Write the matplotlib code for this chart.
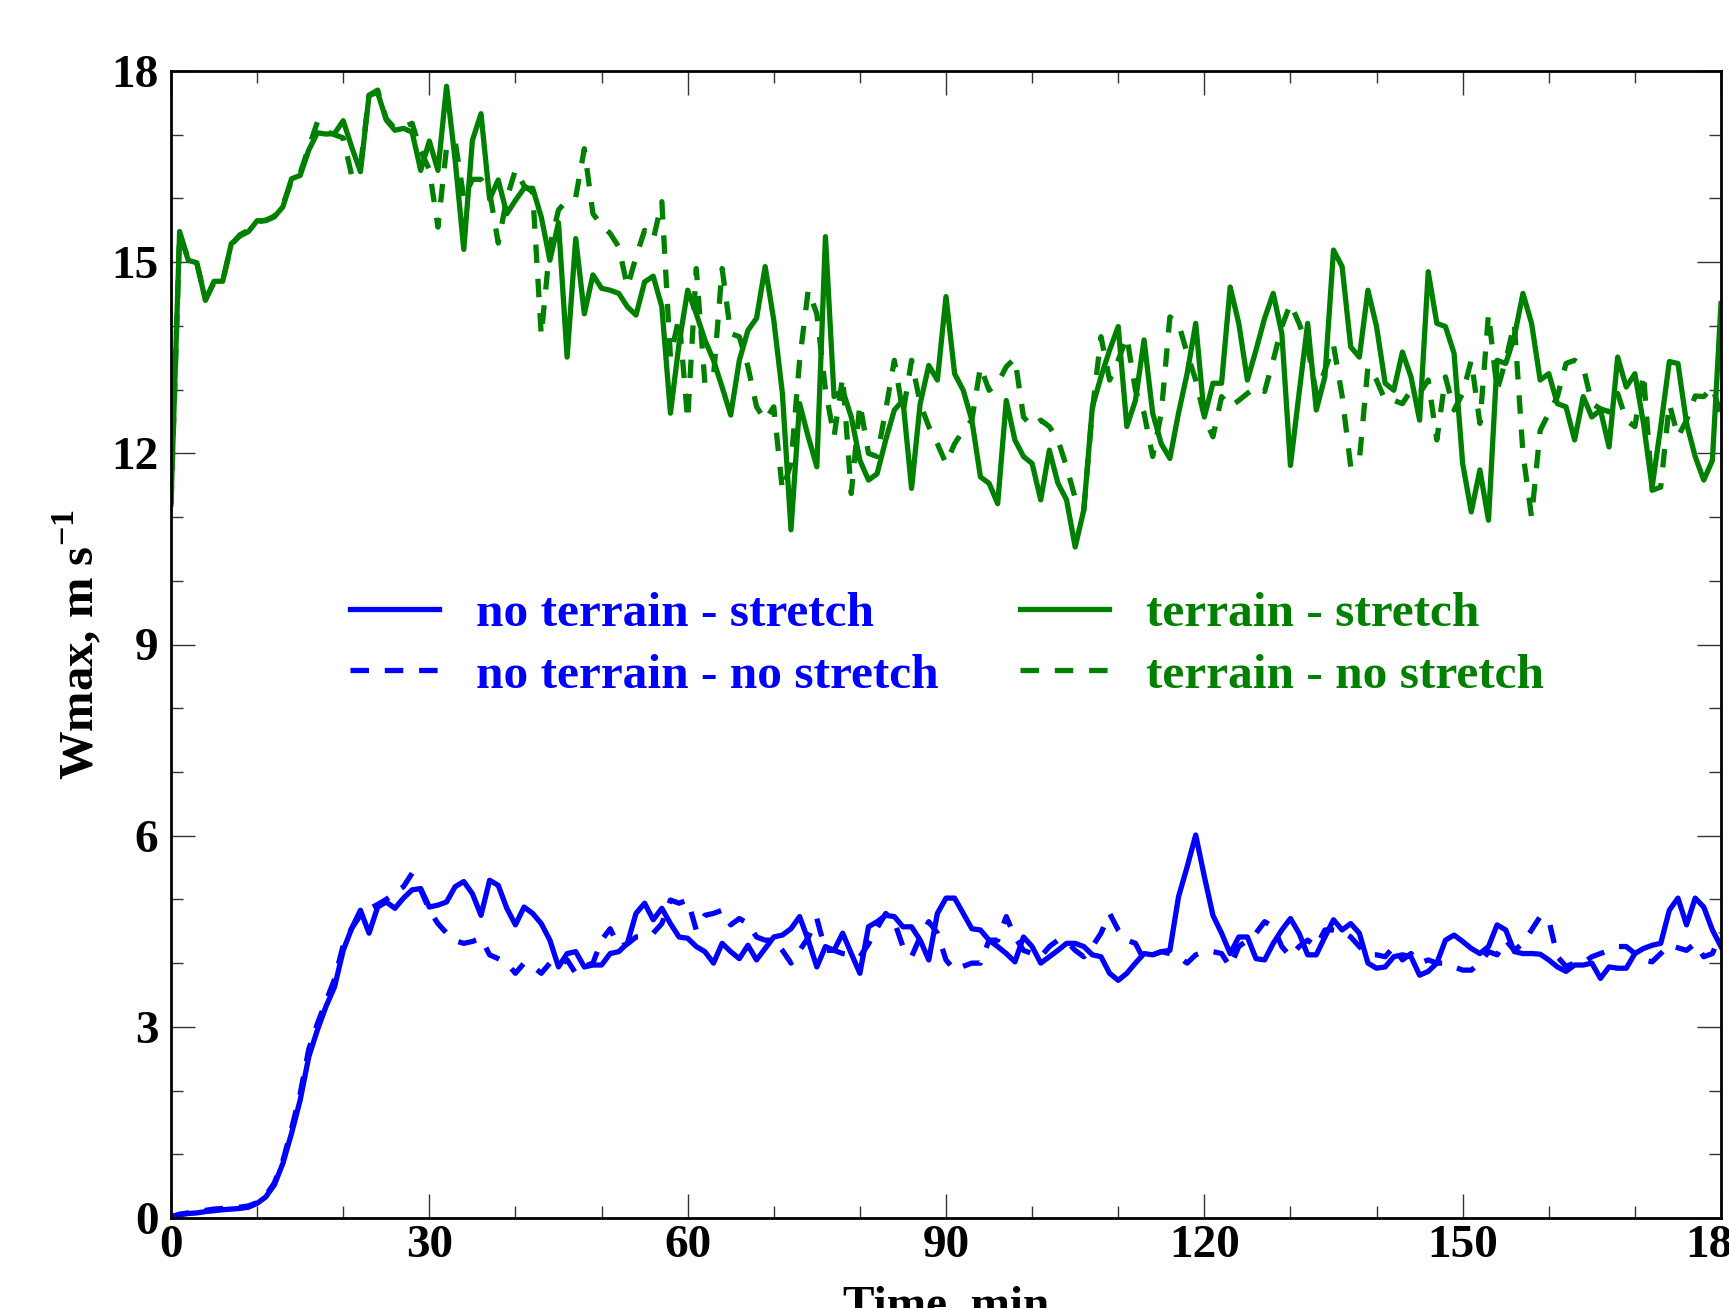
import matplotlib
matplotlib.use('Agg')
import matplotlib.pyplot as plt
from matplotlib.ticker import MultipleLocator
import numpy as np

plt.rcParams['font.family'] = ['Liberation Serif', 'DejaVu Serif']
plt.rcParams['font.weight'] = 'bold'
plt.rcParams['mathtext.fontset'] = 'custom'
plt.rcParams['mathtext.bf'] = 'Liberation Serif:bold'
plt.rcParams['mathtext.rm'] = 'Liberation Serif:bold'

# time axis, minutes
time_min = np.arange(0, 181)

terrain_stretch = [
    11.2, 15.48, 15.03, 14.99, 14.4, 14.7, 14.7, 15.29, 15.41, 15.48,
    15.65, 15.65, 15.71, 15.87, 16.31, 16.36, 16.76, 17.03, 17.01, 17.02,
    17.22, 16.8, 16.42, 17.62, 17.66, 17.23, 17.07, 17.1, 17.04, 16.44,
    16.9, 16.44, 17.76, 16.6, 15.2, 16.91, 17.33, 15.99, 16.29, 15.76,
    15.97, 16.16, 16.16, 15.71, 15.03, 15.62, 13.51, 15.37, 14.19, 14.8,
    14.59, 14.56, 14.51, 14.3, 14.17, 14.69, 14.78, 14.3, 12.63, 13.72,
    14.56, 14.19, 13.78, 13.46, 13.04, 12.6, 13.46, 13.93, 14.12, 14.93,
    14.09, 12.94, 10.8, 12.78, 12.26, 11.79, 15.4, 12.89, 12.99, 12.57,
    11.89, 11.58, 11.68, 12.21, 12.68, 12.83, 11.45, 12.78, 13.38, 13.15,
    14.46, 13.25, 12.99, 12.52, 11.63, 11.53, 11.21, 12.83, 12.21, 11.95,
    11.84, 11.27, 12.05, 11.53, 11.27, 10.53, 11.11, 12.73, 13.2, 13.62,
    13.99, 12.42, 12.83, 13.78, 12.63, 12.15, 11.92, 12.63, 13.25, 14.04,
    12.57, 13.1, 13.1, 14.61, 14.04, 13.15, 13.62, 14.12, 14.51, 13.88,
    11.81, 12.94, 14.04, 12.68, 13.2, 15.19, 14.93, 13.67, 13.51, 14.56,
    13.99, 13.1, 12.99, 13.59, 13.2, 12.52, 14.85, 14.04, 13.99, 13.57,
    11.84, 11.08, 11.74, 10.95, 13.46, 13.41, 13.83, 14.51, 14.04, 13.15,
    13.25, 12.78, 12.73, 12.21, 12.89, 12.57, 12.68, 12.1, 13.51, 13.04,
    13.25, 12.47, 11.47, 12.42, 13.44, 13.41, 12.47, 11.95, 11.58, 11.89,
    14.35]

terrain_no_stretch = [
    11.2, 15.45, 15.05, 14.98, 14.42, 14.68, 14.7, 15.27, 15.43, 15.5,
    15.63, 15.66, 15.72, 15.9, 16.28, 16.4, 16.8, 17.2, 17.05, 17.0,
    16.95, 16.35, 16.5, 17.62, 17.7, 17.25, 17.1, 17.12, 17.18, 16.75,
    16.45, 15.55, 16.8, 16.9, 16.0, 16.3, 16.3, 16.1, 15.3, 16.0,
    16.45, 16.2, 16.1, 13.85, 15.25, 15.82, 15.97, 16.02, 16.78, 15.76,
    15.58, 15.45, 15.24, 14.61, 15.08, 15.5, 15.35, 15.95, 13.51, 14.14,
    12.52, 14.9, 13.1, 13.2, 14.9, 13.88, 13.83, 13.36, 12.73, 12.52,
    12.73, 11.42, 11.84, 13.46, 14.56, 14.19, 13.0, 12.26, 13.2, 11.37,
    12.78, 12.0, 11.95, 12.68, 13.46, 12.63, 13.46, 12.78, 12.42, 12.15,
    11.84, 12.15, 12.36, 12.52, 13.36, 12.99, 13.1, 13.36, 13.49, 12.57,
    12.42, 12.52, 12.42, 12.21, 11.79, 11.3, 11.11, 12.68, 13.83, 13.15,
    13.46, 13.83, 12.99, 12.63, 11.95, 12.63, 14.14, 14.04, 13.57, 13.15,
    12.57, 12.26, 12.89, 12.73, 12.83, 12.94, 13.04, 12.97, 13.46, 13.99,
    14.35, 14.04, 13.67, 12.94, 13.3, 13.7, 12.9, 11.79, 11.89, 13.36,
    13.15, 12.83, 12.83, 12.78, 12.99, 12.94, 13.15, 12.21, 13.2, 12.68,
    12.94, 13.46, 12.47, 14.19, 12.99, 13.46, 14.04, 12.0, 11.0, 12.36,
    12.63, 12.89, 13.41, 13.46, 13.36, 12.78, 12.7, 12.65, 12.94, 12.52,
    12.42, 13.25, 11.42, 11.47, 12.78, 12.26, 12.52, 12.9, 12.89, 13.04,
    12.6]

noterrain_stretch = [
    0.02, 0.05, 0.07, 0.08, 0.1, 0.115, 0.13, 0.14, 0.15, 0.17,
    0.23, 0.33, 0.52, 0.86, 1.33, 1.85, 2.53, 2.95, 3.32, 3.63,
    4.2, 4.55, 4.83, 4.47, 4.88, 4.96, 4.86, 5.02, 5.15, 5.17,
    4.88, 4.91, 4.96, 5.2, 5.28, 5.09, 4.75, 5.3, 5.22, 4.86,
    4.6, 4.88, 4.78, 4.62, 4.36, 3.94, 4.15, 4.18, 3.94, 3.97,
    3.97, 4.15, 4.18, 4.31, 4.78, 4.94, 4.68, 4.86, 4.62, 4.41,
    4.39, 4.26, 4.18, 4.0, 4.31, 4.18, 4.07, 4.28, 4.05, 4.23,
    4.41, 4.44, 4.54, 4.73, 4.36, 3.94, 4.26, 4.2, 4.47, 4.15,
    3.84, 4.57, 4.65, 4.75, 4.73, 4.57, 4.57, 4.36, 4.05, 4.78,
    5.02, 5.02, 4.78, 4.54, 4.52, 4.36, 4.26, 4.15, 4.02, 4.41,
    4.26, 4.0, 4.1, 4.2, 4.31, 4.31, 4.26, 4.13, 4.1, 3.84,
    3.73, 3.84, 4.0, 4.15, 4.13, 4.18, 4.2, 5.04, 5.51, 6.01,
    5.36, 4.75, 4.47, 4.15, 4.41, 4.41, 4.07, 4.05, 4.31, 4.52,
    4.7, 4.47, 4.13, 4.13, 4.41, 4.68, 4.52, 4.62, 4.47, 4.0,
    3.92, 3.94, 4.1, 4.13, 4.1, 3.81, 3.87, 4.0, 4.36, 4.44,
    4.34, 4.23, 4.15, 4.26, 4.6, 4.52, 4.18, 4.15, 4.15, 4.14,
    4.05, 3.94, 3.87, 3.97, 3.97, 4.0, 3.76, 3.94, 3.92, 3.92,
    4.15, 4.23, 4.28, 4.31, 4.83, 5.02, 4.6, 5.02, 4.88, 4.52,
    4.26]

noterrain_no_stretch = [
    0.02, 0.06, 0.08, 0.1, 0.12, 0.14, 0.15, 0.16, 0.17, 0.19,
    0.24, 0.35, 0.55, 0.9, 1.4, 1.95, 2.65, 3.05, 3.4, 3.75,
    4.28, 4.55, 4.75, 4.85, 4.92, 5.0, 5.1, 5.2, 5.41, 5.15,
    4.83, 4.62, 4.47, 4.35, 4.31, 4.34, 4.39, 4.13, 4.07, 4.0,
    3.84, 4.0, 3.95, 3.84, 4.0, 3.95, 4.05, 3.84, 3.95, 4.0,
    4.36, 4.54, 4.26, 4.3, 4.41, 4.42, 4.47, 4.62, 4.99, 4.94,
    4.99, 4.52, 4.75, 4.78, 4.83, 4.6, 4.7, 4.62, 4.41, 4.36,
    4.36, 4.2, 4.0, 4.2, 4.4, 4.7, 4.2, 4.2, 4.15, 4.13,
    4.1, 4.3, 4.55, 4.78, 4.65, 4.26, 4.1, 4.41, 4.65, 4.47,
    4.05, 3.89, 3.95, 4.0, 4.0, 4.36, 4.36, 4.73, 4.41, 4.2,
    4.15, 4.1, 4.26, 4.36, 4.34, 4.2, 4.1, 4.26, 4.47, 4.78,
    4.52, 4.36, 4.31, 4.05, 4.13, 4.18, 4.15, 4.1, 4.0, 4.13,
    4.18, 4.18, 4.15, 3.94, 4.26, 4.36, 4.47, 4.65, 4.57, 4.26,
    4.1, 4.26, 4.36, 4.26, 4.52, 4.52, 4.5, 4.41, 4.26, 4.13,
    4.13, 4.1, 4.26, 4.05, 4.15, 4.0, 4.05, 4.0, 4.0, 3.94,
    3.89, 3.89, 4.0, 4.18, 4.13, 4.36, 4.2, 4.31, 4.52, 4.73,
    4.68, 4.1, 3.95, 4.0, 4.0, 4.1, 4.15, 4.2, 4.26, 4.26,
    4.15, 4.05, 4.02, 4.15, 4.28, 4.24, 4.2, 4.31, 4.1, 4.15,
    4.47]

blue = '#0000ff'
green = '#008000'
lw = 3.8
dash = (3.5, 3)

fig = plt.figure(figsize=(17.29, 13.08), dpi=100)
ax = fig.add_axes([171 / 1729, 1 - 1218 / 1308, 1550 / 1729, 1147 / 1308])

ax.plot(time_min, noterrain_stretch, color=blue, lw=lw, label='no terrain - stretch')
ax.plot(time_min, noterrain_no_stretch, color=blue, lw=lw, dashes=dash,
        label='no terrain - no stretch')
ax.plot(time_min, terrain_stretch, color=green, lw=lw, label='terrain - stretch')
ax.plot(time_min, terrain_no_stretch, color=green, lw=lw, dashes=dash,
        label='terrain - no stretch')

ax.set_xlim(0, 180)
ax.set_ylim(0, 18)
ax.xaxis.set_major_locator(MultipleLocator(30))
ax.xaxis.set_minor_locator(MultipleLocator(10))
ax.yaxis.set_major_locator(MultipleLocator(3))
ax.yaxis.set_minor_locator(MultipleLocator(1))
ax.tick_params(which='both', direction='in', top=True, right=True,
               color='#333333', width=1.0)
ax.tick_params(which='major', length=17, labelsize=34)
ax.tick_params(which='minor', length=8.5)
ax.tick_params(axis='y', which='major', pad=9)
ax.tick_params(axis='x', which='major', pad=5)
for lab in ax.get_xticklabels() + ax.get_yticklabels():
    lab.set_fontweight('bold')
for sp in ax.spines.values():
    sp.set_linewidth(2.0)

ax.set_xlabel('Time, min', fontsize=34, fontweight='bold', labelpad=14)
ax.set_ylabel(r'Wmax, m s$^{\mathbf{-1}}$', fontsize=35, fontweight='bold', labelpad=6)

# ncol fills column-wise: blue pair left, green pair right
leg = ax.legend(ncol=2, loc='center left', bbox_to_anchor=(0.1155, 0.5),
                frameon=False, labelcolor='linecolor',
                handlelength=1.8, handletextpad=0.75, columnspacing=1.65,
                labelspacing=0.34, borderpad=0, borderaxespad=0,
                prop={'weight': 'bold', 'size': 35.6})

fig.savefig('out.png', dpi=100)
